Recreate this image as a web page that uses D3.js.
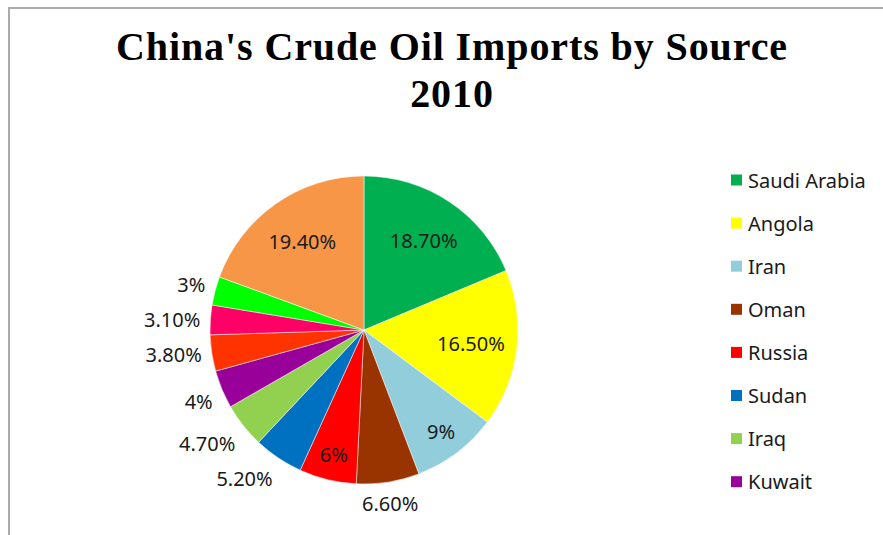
<!DOCTYPE html>
<html>
<head>
<meta charset="utf-8">
<script src="https://cdn.jsdelivr.net/npm/d3@7"></script>
<style>
  body { margin: 0; background: #fff; }
  text { font-family: "Noto Sans", sans-serif; }
</style>
</head>
<body>
<div id="chart"></div>
<script>
let width = 883,
  height = 535;

// data
const sources = ["Saudi Arabia", "Angola", "Iran", "Oman", "Russia", "Sudan", "Iraq", "Kuwait",
  "Kazakhstan", "Libya", "Brazil", "Others"];
const shares = [18.7, 16.5, 9, 6.6, 6, 5.2, 4.7, 4, 3.8, 3.1, 3, 19.4];
const labels = ["18.70%", "16.50%", "9%", "6.60%", "6%", "5.20%", "4.70%", "4%", "3.80%", "3.10%", "3%", "19.40%"];
const sliceColors = ["#00B050", "#FFFF00", "#92CDDC", "#993300", "#FF0000", "#0070C0", "#92D050",
  "#990099", "#FF3300", "#FF0066", "#00FF00", "#F79646"];
// only the first 8 legend entries fit in the chart area
const legendCount = 8;

let data = sources.map((s, i) => ({source: s, value: shares[i], label: labels[i]}));

let svg = d3.select("#chart")
  .append("svg")
  .attr("width", width)
  .attr("height", height);

// chart frame (runs off the right and bottom edges)
svg.append("rect")
  .attr("x", 9)
  .attr("y", 8)
  .attr("width", width + 20)
  .attr("height", height + 20)
  .attr("fill", "none")
  .attr("stroke", "#ababab")
  .attr("stroke-width", 2);

let title = svg.append("text")
  .attr("text-anchor", "middle")
  .style("font-family", "'Liberation Serif', serif")
  .style("font-weight", "bold")
  .style("font-size", "40px")
  .style("letter-spacing", "0.9px")
  .attr("fill", "#000");
title.append("tspan").attr("x", 452).attr("y", 60).text("China's Crude Oil Imports by Source");
title.append("tspan").attr("x", 452).attr("y", 107).text("2010");

let colors = d3.scaleOrdinal()
  .domain(sources)
  .range(sliceColors);

let cx = 364, cy = 330, r = 154;

let pie = d3.pie()
  .value(d => d.value)
  .sort(null);

let arc = d3.arc()
  .innerRadius(0)
  .outerRadius(r);

let arcs = pie(data);

let g = svg.append("g")
  .attr("transform", `translate(${cx},${cy})`);

g.selectAll("path")
  .data(arcs)
  .join("path")
  .attr("d", arc)
  .attr("fill", d => colors(d.data.source))
  .attr("stroke", "#fff")
  .attr("stroke-width", 0.5);

// big slices get the label inside, the rest outside (like Excel best fit)
let labelG = g.selectAll("text")
  .data(arcs)
  .join("text")
  .attr("text-anchor", "middle")
  .attr("dominant-baseline", "central")
  .style("font-size", "20px")
  .attr("fill", "#1a1a1a")
  .text(d => d.data.label);

let ramp = v => Math.sign(v) * Math.min(1, Math.max(0, (Math.abs(v) - 0.15) / 0.35));

labelG.each(function (d) {
  let a = (d.startAngle + d.endAngle) / 2;
  let s = Math.sin(a), c = -Math.cos(a);
  let inside = d.data.value >= 6 && d.data.value !== 6.6;
  let x, y;
  if (inside) {
    let rr = d.data.value > 15 ? r * 0.7 : r * 0.83;
    x = rr * s; y = rr * c;
  } else {
    let w = this.getComputedTextLength(), h = 24;
    x = (r + 10) * s + w / 2 * ramp(s);
    y = (r + 10) * c + h / 2 * ramp(c);
  }
  d3.select(this).attr("x", x).attr("y", y);
});

// legend
let legend = svg.append("g")
  .attr("transform", "translate(731,180)");

let rows = legend.selectAll("g")
  .data(data.slice(0, legendCount))
  .join("g")
  .attr("transform", (d, i) => `translate(0,${i * 43.1})`);

rows.append("rect")
  .attr("x", 0)
  .attr("y", -5.5)
  .attr("width", 11)
  .attr("height", 11)
  .attr("fill", d => colors(d.source));

rows.append("text")
  .attr("x", 17)
  .attr("y", 0)
  .attr("dominant-baseline", "central")
  .style("font-size", "20px")
  .attr("fill", "#1a1a1a")
  .text(d => d.source);
</script>
</body>
</html>
